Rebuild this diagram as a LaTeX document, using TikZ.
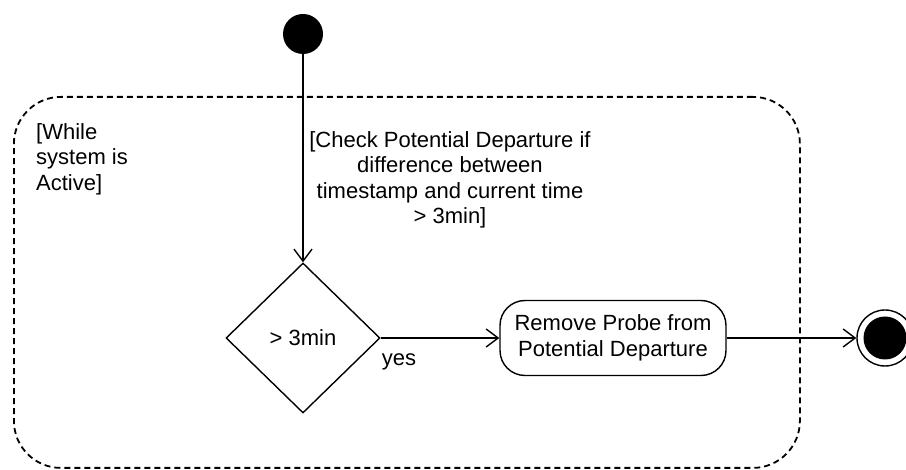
\documentclass[tikz,border=0pt]{standalone}
\usepackage{fontspec}
\setmainfont{Liberation Sans}
\usetikzlibrary{shapes.geometric,arrows.meta}

\tikzset{
  every node/.style={font=\fontsize{22}{25.5}\selectfont, text=black},
  line/.style={line width=1.4pt, draw=black},
  flow/.style={line, -{Straight Barb[length=12pt,width=18pt,line width=1.4pt]}},
  region/.style={line, line width=1.8pt, dash pattern=on 6pt off 4pt, rounded corners=47pt},
  action/.style={line, rounded corners=25pt, align=center},
  decision/.style={line, diamond, inner sep=0pt},
  startnode/.style={circle, fill=black, inner sep=0pt, minimum size=40pt},
}

\begin{document}
\begin{tikzpicture}[x=1pt,y=-1pt]
\useasboundingbox (0,0) rectangle (906,470);

% loop region
\node[region, anchor=north west, minimum width=786pt, minimum height=371pt] (loop) at (13,96) {};
\node[anchor=north west, align=left, inner sep=0pt] (looplbl) at (36,123) {[While\\system is\\Active]};

% nodes
\node[startnode] (start) at (303,34) {};
\node[decision, minimum width=154pt, minimum height=150pt] (dec) at (303,338) {> 3min};
\node[action, minimum width=226pt, minimum height=75pt] (act) at (613,338) {Remove Probe from\\Potential Departure};
\node[circle, line, inner sep=0pt, minimum size=56pt] (final) at (885,338) {};
\node[circle, fill=black, inner sep=0pt, minimum size=43pt] (finalin) at (final) {};

% connectors
\draw[flow] (start) -- (dec);
\node[align=center, inner sep=0pt] (guard) at (450,180) {[Check Potential Departure if\\difference between\\timestamp and current time\\> 3min]};
\draw[flow] (dec) -- (act);
\node[inner sep=0pt] (yes) at (399,362) {yes};
\draw[flow] (act) -- (final);
\end{tikzpicture}
\end{document}
